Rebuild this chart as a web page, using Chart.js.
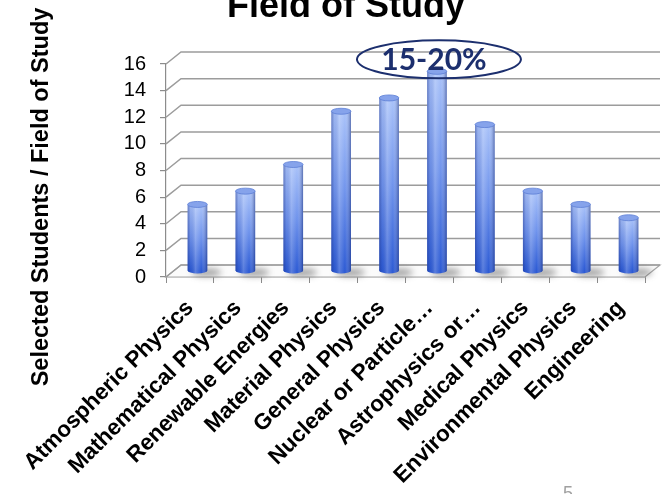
<!DOCTYPE html>
<html>
<head>
<meta charset="utf-8">
<script src="https://cdn.jsdelivr.net/npm/chart.js@4.4.1/dist/chart.umd.min.js"></script>
<style>
  html, body { margin: 0; padding: 0; background: #fff; overflow: hidden; }
  canvas { display: block; }
</style>
</head>
<body>
<canvas id="chart" width="662" height="494"></canvas>
<script>
// ---- data ----
const categories = [
  'Atmospheric Physics', 'Mathematical Physics', 'Renewable Energies',
  'Material Physics', 'General Physics', 'Nuclear or Particle…',
  'Astrophysics or…', 'Medical Physics', 'Environmental Physics', 'Engineering'
];
const studentCounts = [5, 6, 8, 12, 13, 15, 11, 6, 5, 4];
const yTicks = [0, 2, 4, 6, 8, 10, 12, 14, 16];
const chartTitle = 'Field of Study';
const yAxisTitle = 'Selected Students / Field of Study';
const calloutText = '15-20%';
const calloutCategory = 5;     // index of the highlighted category
const calloutValue = 16.5;     // height the callout is centred on
const pageNumber = '5';

// ---- 3D look ----
const DEPTH_X = 15, DEPTH_Y = -12;   // offset of the back wall
const FONT = '"Liberation Sans", Arial, sans-serif';

function barProps(bar) {
  return bar.getProps(['x', 'y', 'base', 'width'], true);
}

const depthPlugin = {
  id: 'depth3d',
  beforeDatasetsDraw(chart) {
    const { ctx, chartArea: a, scales: { y } } = chart;
    const b = y.getPixelForValue(0);
    ctx.save();
    // floor
    ctx.beginPath();
    ctx.moveTo(a.left, b);
    ctx.lineTo(a.right, b);
    ctx.lineTo(a.right + DEPTH_X, b + DEPTH_Y);
    ctx.lineTo(a.left + DEPTH_X, b + DEPTH_Y);
    ctx.closePath();
    ctx.fillStyle = '#fbfbfb';
    ctx.fill();
    ctx.strokeStyle = '#a8a8a8';
    ctx.lineWidth = 1.2;
    ctx.stroke();
    // side + back wall gridlines
    ctx.strokeStyle = '#9c9c9c';
    ctx.lineWidth = 1.5;
    yTicks.forEach(v => {
      const py = y.getPixelForValue(v);
      ctx.beginPath();
      ctx.moveTo(a.left, py);
      ctx.lineTo(a.left + DEPTH_X, py + DEPTH_Y);
      ctx.lineTo(a.right + DEPTH_X, py + DEPTH_Y);
      ctx.stroke();
    });
    ctx.restore();

    // bars stand in the middle of the floor depth
    ctx.save();
    ctx.translate(DEPTH_X / 2, DEPTH_Y / 2);
    const meta = chart.getDatasetMeta(0);
    meta.data.forEach(bar => {
      const p = barProps(bar);
      // soft floor shadow
      ctx.save();
      ctx.filter = 'blur(3px)';
      ctx.fillStyle = 'rgba(60,60,60,0.45)';
      ctx.beginPath();
      ctx.ellipse(p.x + 9, p.base + 2, p.width * 0.75, 4, 0, 0, Math.PI * 2);
      ctx.fill();
      ctx.restore();
      // rounded bottom of the cylinder
      ctx.fillStyle = '#2c5ad4';
      ctx.beginPath();
      ctx.ellipse(p.x, p.base, p.width / 2, 3, 0, 0, Math.PI * 2);
      ctx.fill();
    });
  },
  afterDatasetsDraw(chart) {
    const { ctx } = chart;
    const meta = chart.getDatasetMeta(0);
    meta.data.forEach(bar => {
      const p = barProps(bar);
      const l = p.x - p.width / 2;
      // round shading across the cylinder
      const g = ctx.createLinearGradient(l, 0, l + p.width, 0);
      g.addColorStop(0, 'rgba(25,45,130,0.45)');
      g.addColorStop(0.15, 'rgba(25,45,130,0.08)');
      g.addColorStop(0.4, 'rgba(255,255,255,0.22)');
      g.addColorStop(0.7, 'rgba(255,255,255,0)');
      g.addColorStop(1, 'rgba(15,35,110,0.5)');
      ctx.fillStyle = g;
      ctx.beginPath();
      ctx.rect(l, p.y, p.width, p.base - p.y);
      ctx.ellipse(p.x, p.base, p.width / 2, 3, 0, 0, Math.PI);
      ctx.fill();
      // top cap
      ctx.beginPath();
      ctx.ellipse(p.x, p.y, p.width / 2, 3, 0, 0, Math.PI * 2);
      ctx.fillStyle = '#86a3eb';
      ctx.fill();
      ctx.strokeStyle = '#5d7fd6';
      ctx.lineWidth = 0.8;
      ctx.stroke();
    });
    ctx.restore();
  },
  afterDraw(chart) {
    const { ctx, scales: { x, y } } = chart;
    ctx.save();
    ctx.fillStyle = '#000';
    // chart title
    ctx.font = 'bold 36px ' + FONT;
    ctx.textAlign = 'center';
    ctx.textBaseline = 'alphabetic';
    ctx.fillText(chartTitle, 346, 17);
    // value axis title
    ctx.save();
    ctx.translate(48, 197);
    ctx.rotate(-Math.PI / 2);
    ctx.font = 'bold 23.5px ' + FONT;
    ctx.fillText(yAxisTitle, 0, 0);
    ctx.restore();
    // callout around the tallest bar
    const cx = x.getPixelForValue(calloutCategory) + DEPTH_X / 2 + 2;
    const cy = y.getPixelForValue(calloutValue) + 2;
    ctx.beginPath();
    ctx.ellipse(cx, cy, 82, 19, 0, 0, Math.PI * 2);
    ctx.strokeStyle = '#1c2f6e';
    ctx.lineWidth = 2;
    ctx.stroke();
    ctx.fillStyle = '#1c2f6e';
    ctx.font = 'bold 30px Lato, ' + FONT;
    ctx.textBaseline = 'middle';
    ctx.fillText(calloutText, cx - 5, cy + 1);
    // slide number
    ctx.fillStyle = '#a0a0a0';
    ctx.font = '18px ' + FONT;
    ctx.textBaseline = 'top';
    ctx.fillText(pageNumber, 568, 485);
    ctx.restore();
  }
};

// vertical gradient for each cylinder body, from its top down to the floor
function bodyGradient(c) {
  const ys = c.chart.scales.y;
  if (!ys || c.type !== 'data') return '#6b8fe6';
  const top = ys.getPixelForValue(c.raw);
  const base = ys.getPixelForValue(0);
  if (!isFinite(top) || !isFinite(base) || top === base) return '#6b8fe6';
  const g = c.chart.ctx.createLinearGradient(0, top, 0, base);
  g.addColorStop(0, '#a9c2f9');
  g.addColorStop(0.5, '#6f93ec');
  g.addColorStop(1, '#2c5ad4');
  return g;
}

new Chart(document.getElementById('chart'), {
  type: 'bar',
  data: {
    labels: categories,
    datasets: [{
      data: studentCounts,
      clip: false,
      borderWidth: 0,
      categoryPercentage: 1,
      barPercentage: 0.41,
      backgroundColor: bodyGradient
    }]
  },
  options: {
    responsive: false,
    animation: false,
    layout: { padding: { top: 64, right: 17, bottom: 0, left: 0 } },
    plugins: { legend: { display: false }, tooltip: { enabled: false }, title: { display: false } },
    scales: {
      x: {
        ticks: {
          color: '#000',
          font: { family: FONT, size: 22.5, weight: 'bold' },
          minRotation: 45, maxRotation: 45, autoSkip: false, padding: 12
        },
        grid: { drawOnChartArea: false, tickLength: 6, color: '#8c8c8c', offset: true },
        border: { color: '#a8a8a8', width: 1.2 },
        afterFit: s => { s.height = 217; }
      },
      y: {
        min: 0, max: 16,
        afterBuildTicks: s => { s.ticks = yTicks.map(v => ({ value: v })); },
        ticks: { color: '#000', font: { family: FONT, size: 20 }, padding: 14, autoSkip: false },
        grid: { drawOnChartArea: false, tickLength: 6, color: '#8c8c8c', lineWidth: 1.2 },
        border: { color: '#8c8c8c', width: 1.2 },
        afterFit: s => { s.width = 166; }
      }
    }
  },
  plugins: [depthPlugin]
});
</script>
</body>
</html>
